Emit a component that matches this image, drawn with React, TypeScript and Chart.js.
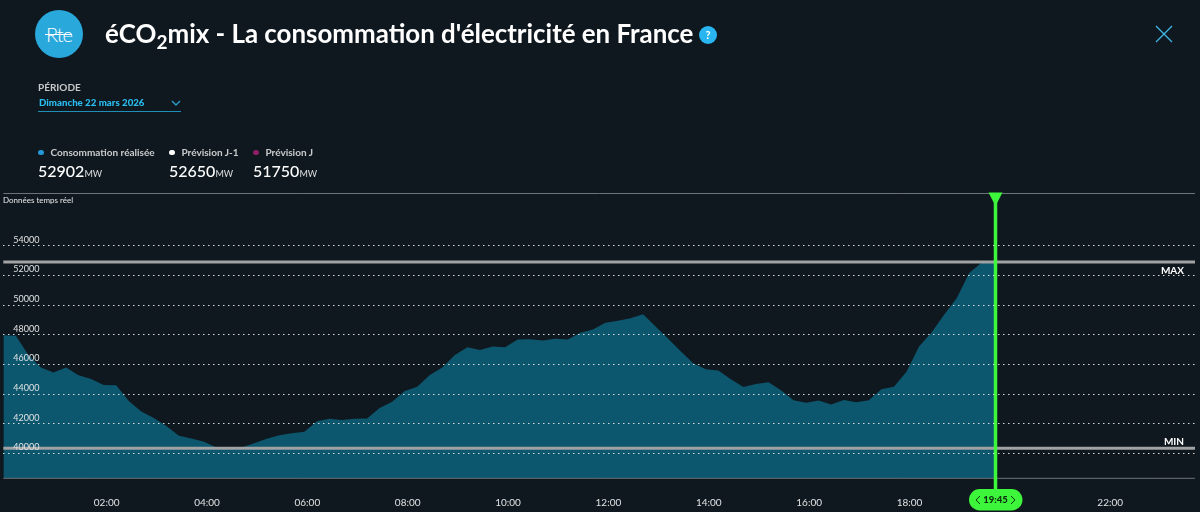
import React, { useEffect, useRef } from "react";
import { Chart, registerables } from "chart.js";

Chart.register(...registerables);

const hours = ["00","01","02","03","04","05","06","07","08","09","10","11","12","13","14","15","16","17","18","19","20","21","22","23"];
const quarters = ["00","15","30","45"];
const categories: string[] = hours.flatMap((h) => quarters.map((q) => `${h}:${q}`));
const consumption: number[] = [
  47970,47930,46640,45790,45450,45790,45270,45020,44620,44590,43540,42820,42390,41850,41190,41010,
  40790,40400,40380,40400,40680,40990,41220,41350,41460,42160,42340,42250,42340,42360,43060,43490,
  44210,44500,45290,45790,46640,47160,46980,47210,47160,47680,47700,47610,47730,47680,48130,48360,
  48810,48940,49120,49390,48560,47730,46890,46080,45680,45590,45000,44480,44680,44800,44260,43580,
  43420,43560,43290,43600,43450,43580,44320,44500,45500,47210,48150,49350,50470,52160,52880,52902,
];
const xTickLabels = ["02:00","04:00","06:00","08:00","10:00","12:00","14:00","16:00","18:00","22:00"];
const yTicks = [40000,42000,44000,46000,48000,50000,52000,54000];
const dayMax = 52902;
const dayMin = 40340;
const cursorTime = "19:45";
const legendItems = [
  { label: "Consommation réalisée", value: "52902", color: "#2596d6", x: 38 },
  { label: "Prévision J-1", value: "52650", color: "#ffffff", x: 169 },
  { label: "Prévision J", value: "51750", color: "#8a1f63", x: 253 },
];

const FONT = 'Lato, "Noto Sans", sans-serif';
const GREEN = "#3df53a";

const overlay = {
  id: "overlay",
  afterDatasetsDraw(chart: any) {
    const { ctx, scales, chartArea } = chart;
    const x = scales.x, y = scales.y;
    const left = chartArea.left, right = chartArea.right;
    ctx.save();
    // frame lines
    ctx.strokeStyle = "#6d7478";
    ctx.lineWidth = 1;
    ctx.beginPath();
    ctx.moveTo(left, chartArea.top + 0.5); ctx.lineTo(right, chartArea.top + 0.5);
    ctx.moveTo(left, chartArea.bottom); ctx.lineTo(right, chartArea.bottom);
    ctx.stroke();
    // min / max
    ctx.strokeStyle = "#a0a2a3";
    ctx.lineWidth = 3;
    for (const v of [dayMax, dayMin]) {
      const py = y.getPixelForValue(v);
      ctx.beginPath(); ctx.moveTo(left, py); ctx.lineTo(right, py); ctx.stroke();
    }
    ctx.fillStyle = "#ffffff";
    ctx.font = `bold 10px ${FONT}`;
    ctx.textAlign = "right";
    ctx.textBaseline = "middle";
    ctx.fillText("MAX", 1184, y.getPixelForValue(dayMax) + 9);
    ctx.fillText("MIN", 1184, y.getPixelForValue(dayMin) - 7);
    // cursor
    const cx = x.getPixelForValue(categories.indexOf(cursorTime)) + 1.2;
    ctx.fillStyle = GREEN;
    ctx.fillRect(cx - 1.75, chartArea.top, 3.5, 489 - chartArea.top);
    ctx.beginPath();
    ctx.moveTo(cx - 7, chartArea.top - 0.5);
    ctx.lineTo(cx + 7, chartArea.top - 0.5);
    ctx.lineTo(cx, chartArea.top + 13);
    ctx.closePath();
    ctx.fill();
    ctx.beginPath();
    ctx.roundRect(cx - 26.5, 489, 53.5, 21.5, 10.7);
    ctx.fill();
    ctx.fillStyle = "#0e2e0e";
    ctx.font = `900 9.5px ${FONT}`;
    ctx.textAlign = "center";
    ctx.fillText(cursorTime, cx, 500);
    ctx.strokeStyle = "#123a12";
    ctx.lineWidth = 1;
    ctx.beginPath();
    ctx.moveTo(cx - 15.5, 496); ctx.lineTo(cx - 19.5, 500); ctx.lineTo(cx - 15.5, 504);
    ctx.moveTo(cx + 15.5, 496); ctx.lineTo(cx + 19.5, 500); ctx.lineTo(cx + 15.5, 504);
    ctx.stroke();
    ctx.restore();
  },
};

const abs = (x: number, y: number, extra: React.CSSProperties = {}): React.CSSProperties => ({
  position: "absolute", left: x, top: y, whiteSpace: "nowrap", lineHeight: 1, ...extra,
});

export default function App() {
  const ref = useRef<HTMLCanvasElement | null>(null);
  useEffect(() => {
    document.body.style.margin = "0";
    document.body.style.background = "#10181f";
    const chart = new Chart(ref.current!, {
      type: "line",
      data: {
        labels: categories,
        datasets: [{
          data: consumption,
          borderWidth: 0,
          pointRadius: 0,
          tension: 0,
          fill: "start",
          backgroundColor: "#0c566e",
        }],
      },
      plugins: [overlay],
      options: {
        animation: false,
        responsive: false,
        devicePixelRatio: 1,
        layout: { padding: { left: 3.3, right: 5, top: 193, bottom: 0 } },
        plugins: { legend: { display: false }, tooltip: { enabled: false } },
        scales: {
          x: {
            type: "category",
            offset: false,
            grid: { display: false },
            border: { display: false },
            afterFit: (s: any) => { s.height = 33.7; s.paddingLeft = 0; s.paddingRight = 0; },
            ticks: {
              autoSkip: false,
              maxRotation: 0,
              padding: 10,
              labelOffset: 3,
              color: "#dfe2e3",
              font: { family: FONT, size: 10 },
              callback: function (this: any, v: any) {
                const l = categories[v];
                return xTickLabels.includes(l) ? l : "";
              },
            },
          },
          y: {
            min: 38320,
            max: 57560,
            afterFit: (s: any) => { s.width = 0; },
            afterBuildTicks: (s: any) => { s.ticks = yTicks.map((value) => ({ value })); },
            grid: { z: 1, color: "#d8dbdc", lineWidth: 1, drawTicks: false },
            border: { display: false, dash: [1.5, 3.5] },
            ticks: {
              mirror: true,
              padding: 10,
              labelOffset: -6,
              z: 2,
              color: "#dfe2e3",
              font: { family: FONT, size: 9 },
              callback: (v: any) => String(v),
            },
          },
        },
      } as any,
    });
    return () => chart.destroy();
  }, []);

  return (
    <div style={{ position: "relative", width: 1200, height: 512, overflow: "hidden", background: "#10181f", fontFamily: FONT, color: "#fff" }}>
      <canvas ref={ref} width={1200} height={512} style={{ position: "absolute", left: 0, top: 0, display: "block" }} />
      <div style={abs(35, 10, { width: 48, height: 48, borderRadius: "50%", background: "#29a8dc", textAlign: "center", lineHeight: "48px", fontSize: 20, fontWeight: 300, letterSpacing: -1 })}>Rte</div>
      <div style={{ position: "absolute", left: 45, top: 34, width: 27, height: 1, background: "#fff" }} />
      <div style={abs(105, 18, { fontSize: 25.9, fontWeight: 700, lineHeight: "30px" })}>
        éCO<sub style={{ fontSize: 19, fontWeight: 700, lineHeight: 0 }}>2</sub>mix - La consommation d'électricité en France
      </div>
      <div style={abs(699, 26, { width: 18, height: 18, borderRadius: "50%", background: "#29b6f0", textAlign: "center", lineHeight: "18px", fontSize: 11, fontWeight: 700 })}>?</div>
      <svg style={{ position: "absolute", left: 1155, top: 25 }} width="18" height="18">
        <path d="M1 1L17 17M17 1L1 17" stroke="#3fb6e6" strokeWidth="1.3" fill="none" />
      </svg>
      <div style={abs(38, 82, { fontSize: 10, fontWeight: 700, color: "#c6c9cb" })}>PÉRIODE</div>
      <div style={abs(39, 98, { fontSize: 9.7, fontWeight: 900, color: "#29bdf0" })}>Dimanche 22 mars 2026</div>
      <svg style={{ position: "absolute", left: 171, top: 100 }} width="10" height="7">
        <path d="M1 1L5 5L9 1" stroke="#2a9bc8" strokeWidth="1.4" fill="none" />
      </svg>
      <div style={{ position: "absolute", left: 38, top: 111, width: 143, height: 1, background: "#1f8fb8" }} />
      {legendItems.map((it) => (
        <React.Fragment key={it.label}>
          <div style={{ position: "absolute", left: it.x, top: 149.5, width: 5.5, height: 5.5, borderRadius: "50%", background: it.color }} />
          <div style={abs(it.x + 12.5, 147, { fontSize: 10, fontWeight: 700, color: "#c9cccd" })}>{it.label}</div>
          <div style={abs(it.x, 163, { fontSize: 16, fontWeight: 500 })}>
            {it.value}<span style={{ fontSize: 9, fontWeight: 500, color: "#d5d8d9" }}>MW</span>
          </div>
        </React.Fragment>
      ))}
      <div style={abs(3, 196, { fontSize: 8, color: "#e6e8e9" })}>Données temps réel</div>
    </div>
  );
}
